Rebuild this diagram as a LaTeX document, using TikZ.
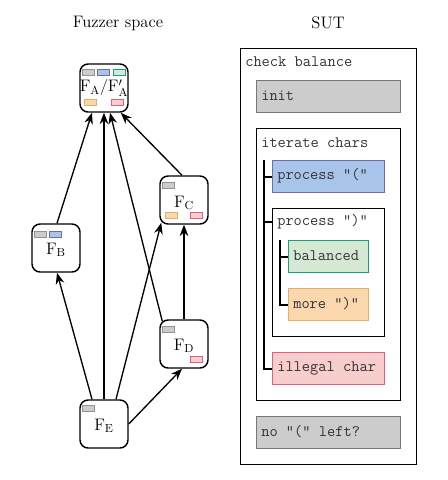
\documentclass[tikz,border=0pt]{standalone}
\usepackage{fontspec}
\usetikzlibrary{arrows.meta,calc}
\definecolor{gfill}{HTML}{CCCCCC}\definecolor{gline}{HTML}{777777}
\definecolor{bfill}{HTML}{A9C4EB}\definecolor{bline}{HTML}{6C6EA8}
\definecolor{tfill}{HTML}{D5E8D4}\definecolor{tline}{HTML}{17A07E}
\definecolor{ofill}{HTML}{FAD7AC}\definecolor{oline}{HTML}{E3B06C}
\definecolor{pfill}{HTML}{F8CECC}\definecolor{pline}{HTML}{E0607E}
\definecolor{txt}{HTML}{333333}
\tikzset{
  fz/.style={draw=black, line width=1.1pt, rounded corners=6pt, fill=white,
    minimum width=36pt, minimum height=36pt, inner sep=0pt},
  flab/.style={inner sep=0pt, font=\fontsize{12.5}{14}\selectfont},
  arr/.style={line width=1pt, -{Stealth[length=8.5pt,width=6.5pt]}},
  tg/.style={line width=0.5pt},
  sbox/.style={draw, line width=1.1pt, anchor=north west, inner sep=0pt},
  mtext/.style={anchor=west, inner sep=0pt, text=txt, font=\ttfamily\fontsize{12}{13}\selectfont},
  tree/.style={line width=1.3pt},
  title/.style={font=\fontsize{12.5}{14}\selectfont}
}
\begin{document}
\begin{tikzpicture}[x=0.75pt,y=-0.75pt]
\useasboundingbox (0,0) rectangle (448,480);
% titles
\node[title] (t1) at (118,23) {Fuzzer space};
\node[title] (t2) at (328,23) {SUT};
% fuzzer nodes
\node[fz] (A) at (104,88) {};
\node[fz] (B) at (56,248) {};
\node[fz] (C) at (184,200) {};
\node[fz] (D) at (184,344) {};
\node[fz] (E) at (104,424) {};
\node[flab] (lA) at (104,88) {$\mathrm{F_A/F'_A}$};
\node[flab] (lB) at (56,250) {$\mathrm{F_B}$};
\node[flab] (lC) at (184,203) {$\mathrm{F_C}$};
\node[flab] (lD) at (184,346) {$\mathrm{F_D}$};
\node[flab] (lE) at (104,426) {$\mathrm{F_E}$};
% tags
\draw[tg, fill=gfill, draw=gline!80] (82,69) rectangle ++(12,6);
\draw[tg, fill=bfill, draw=bline] (97,69) rectangle ++(12,6);
\draw[tg, fill=tfill, draw=tline] (113,69) rectangle ++(12,6);
\draw[tg, fill=ofill, draw=oline] (84,99) rectangle ++(12,6);
\draw[tg, fill=pfill, draw=pline] (111,99) rectangle ++(12,6);
\draw[tg, fill=gfill, draw=gline!80] (34,231) rectangle ++(12,6);
\draw[tg, fill=bfill, draw=bline] (49,231) rectangle ++(12,6);
\draw[tg, fill=gfill, draw=gline!80] (162,182) rectangle ++(12,6);
\draw[tg, fill=ofill, draw=oline] (165,212) rectangle ++(12,6);
\draw[tg, fill=pfill, draw=pline] (190,212) rectangle ++(12,6);
\draw[tg, fill=gfill, draw=gline!80] (162,326) rectangle ++(12,6);
\draw[tg, fill=pfill, draw=pline] (190,356) rectangle ++(12,6);
\draw[tg, fill=gfill, draw=gline!80] (82,405) rectangle ++(12,6);
% edges
\draw[arr] ($(B.north)+(1,0)$) -- ($(A.south)+(-12,0)$);
\draw[arr] ($(E.north)+(-12,0)$) -- ($(B.south)+(1,0)$);
\draw[arr] (E.north) -- (A.south);
\draw[arr] ($(E.north)+(12,0)$) -- ($(C.south west)+(2,-2)$);
\draw[arr] ($(D.north west)+(3,2)$) -- ($(A.south)+(6,0)$);
\draw[arr] ($(C.north)+(-2,0)$) -- ($(A.south east)+(-8,0)$);
\draw[arr] (E.east) -- ($(D.south)+(-2,0)$);
\draw[arr] (D.north) -- (C.south);
% SUT
\node[sbox, minimum width=132pt, minimum height=312pt] (sut) at (240,48) {};
\node[mtext] (sutl) at (245,62) {check balance};
\node[sbox, draw=gline, fill=gfill, minimum width=108pt, minimum height=24pt] (init) at (256,80) {};
\node[mtext] (initl) at (261,96) {init};
\node[sbox, minimum width=108pt, minimum height=204pt] (iter) at (256,128) {};
\node[mtext] (iterl) at (261,143) {iterate chars};
\node[sbox, draw=bline, fill=bfill, minimum width=84pt, minimum height=24pt] (p1) at (272,160) {};
\node[mtext] (p1l) at (277,176) {process "("};
\node[sbox, minimum width=84pt, minimum height=96pt] (p2) at (272,208) {};
\node[mtext] (p2l) at (277,222) {process ")"};
\node[sbox, draw=tline, fill=tfill, minimum width=60pt, minimum height=24pt] (bal) at (288,240) {};
\node[mtext] (ball) at (293,256) {balanced};
\node[sbox, draw=oline, fill=ofill, minimum width=60pt, minimum height=24pt] (more) at (288,288) {};
\node[mtext] (morel) at (293,304) {more ")"};
\node[sbox, draw=pline, fill=pfill, minimum width=84pt, minimum height=24pt] (ill) at (272,352) {};
\node[mtext] (illl) at (277,368) {illegal char};
\node[sbox, draw=gline, fill=gfill, minimum width=108pt, minimum height=24pt] (nol) at (256,416) {};
\node[mtext] (noll) at (261,432) {no "(" left?};
% tree lines
\coordinate (s1) at (264,160);
\coordinate (s2) at (280,240);
\draw[tree] (s1) |- (ill.west);
\draw[tree] (s1 |- p1.west) -- (p1.west);
\draw[tree] (s1 |- p2l.west) -- (p2.west |- p2l.west);
\draw[tree] (s2) |- (more.west);
\draw[tree] (s2 |- bal.west) -- (bal.west);
\end{tikzpicture}
\end{document}
